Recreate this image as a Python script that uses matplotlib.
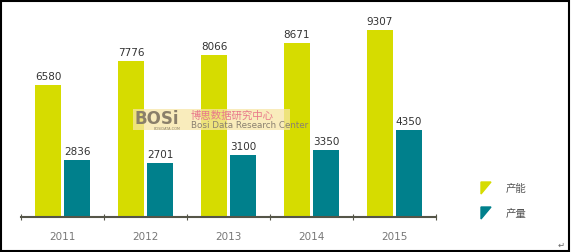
import matplotlib.pyplot as plt
from matplotlib.patches import Rectangle
import numpy as np

plt.rcParams['font.family'] = ['DejaVu Sans', 'Noto Sans CJK SC']

years = ['2011', '2012', '2013', '2014', '2015']
capacity = [6580, 7776, 8066, 8671, 9307]
output = [2836, 2701, 3100, 3350, 4350]
series_names = ['产能', '产量']

yellow = '#d6dc00'
teal = '#00808c'

fig = plt.figure(figsize=(5.71, 2.53), dpi=100)
W, H = 571, 253
# axes: x from 21 to 436 px, baseline at y=218, top at y=17
ax = fig.add_axes([21 / W, (H - 218) / H, (436 - 21) / W, (218 - 17) / H])

x = np.arange(len(years))
w = 0.313
off = 0.175
b1 = ax.bar(x - off, capacity, w, color=yellow)
b2 = ax.bar(x + off, output, w, color=teal)

for bars, vals in [(b1, capacity), (b2, output)]:
    for r, v in zip(bars, vals):
        ax.text(r.get_x() + r.get_width() / 2, v + 180, str(v),
                ha='center', va='bottom', fontsize=7.5, color='#333333')

ax.set_xlim(-0.5, len(years) - 0.5)
ax.set_ylim(0, 10000)
ax.set_yticks([])
ax.set_xticks(np.arange(len(years) + 1) - 0.5)
ax.set_xticks(x, minor=True)
ax.set_xticklabels([])
ax.set_xticklabels(years, minor=True)
ax.tick_params(axis='x', which='major', direction='inout', length=5, color='#555548', width=0.8)
ax.tick_params(axis='x', which='minor', length=0, pad=10, labelsize=7.5, labelcolor='#777777')
for s in ['top', 'right', 'left']:
    ax.spines[s].set_visible(False)
ax.spines['bottom'].set_color('#555548')
ax.spines['bottom'].set_linewidth(1.5)

# legend (flag-like triangles)
for i, (name, c) in enumerate(zip(series_names, [yellow, teal])):
    yy = 1 - (189 + 25 * i) / H
    tri = plt.Polygon([[481 / W, yy + 6 / H], [491 / W, yy + 6 / H], [481 / W, yy - 6 / H]],
                      closed=True, color=c, transform=fig.transFigure)
    fig.patches.append(tri)
    fig.text(506 / W, yy, name, fontsize=7.5, color='#555555', va='center',
             family=['Noto Sans CJK SC', 'DejaVu Sans'])

# watermark
fig.patches.append(Rectangle((133 / W, 1 - 131 / H), 157 / W, 21 / H,
                             transform=fig.transFigure, color='#f7e6a6', alpha=0.75, lw=0))
fig.text(134 / W, 1 - 110 / H, 'BOSi', fontsize=12, fontweight='bold', color='#8a7f6a', va='top')
fig.text(154 / W, 1 - 129 / H, 'BOSIDATA.COM', fontsize=2.5, color='#8a7f6a', va='center')
fig.text(191 / W, 1 - 115.5 / H, '博思数据研究中心', fontsize=7.5, color='#e8788a', va='center',
         family=['Noto Sans CJK SC', 'DejaVu Sans'])
fig.text(191 / W, 1 - 126 / H, 'Bosi Data Research Center', fontsize=6.3, color='#8a8070', va='center',
         family=['Liberation Sans Narrow', 'DejaVu Sans'])

fig.text(561 / W, 1 - 245 / H, '↵', fontsize=6, color='#666666', ha='center', va='center')

# border frame
fig.patches.append(Rectangle((1 / W, 1 / H), (W - 3) / W, (H - 3) / H, transform=fig.transFigure,
                             fill=False, ec='black', lw=1.5))

fig.savefig('out.png', dpi=100)
